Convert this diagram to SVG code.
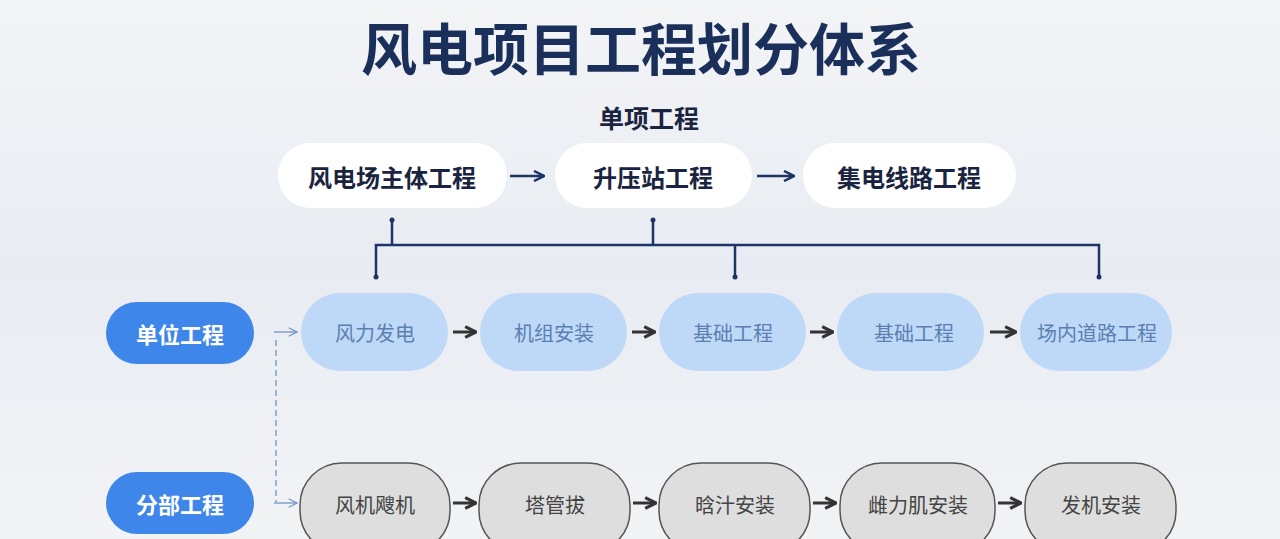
<svg xmlns="http://www.w3.org/2000/svg" width="1280" height="539" viewBox="0 0 1280 539">
<defs>
<linearGradient id="bg" x1="0" y1="0" x2="0" y2="1"><stop offset="0" stop-color="#f3f4f6"/><stop offset="0.5" stop-color="#e8ecf2"/><stop offset="1" stop-color="#f2f3f5"/></linearGradient>
<marker id="an" viewBox="0 0 10 10" refX="9" refY="5" markerWidth="5" markerHeight="5" orient="auto"><path d="M1,1 L9,5 L1,9" fill="none" stroke="#1c3566" stroke-width="2"/></marker>
<marker id="ad" viewBox="0 0 10 10" refX="9" refY="5" markerWidth="4.5" markerHeight="4.5" orient="auto"><path d="M1,1 L9,5 L1,9" fill="none" stroke="#333" stroke-width="2.4"/></marker>
<marker id="al" viewBox="0 0 10 10" refX="9" refY="5" markerWidth="8" markerHeight="8" orient="auto"><path d="M1,1 L9,5 L1,9" fill="none" stroke="#6f95c8" stroke-width="1.1"/></marker>
</defs>
<style>
text{font-family:"Noto Sans CJK SC","Noto Sans",sans-serif;text-anchor:middle;dominant-baseline:central}
.top rect{fill:#fff}
.top text{font-size:24px;font-weight:bold;fill:#1a2440}
.unit rect{fill:#bed8f8}
.unit text{font-size:20px;fill:#5a7fb0}
.sub rect{fill:#dedede;stroke:#555;stroke-width:1.5}
.sub text{font-size:20px;fill:#444}
.lab rect{fill:#3f86ea}
.lab text{font-size:22px;font-weight:bold;fill:#fff}
.nv{stroke:#1c3566;stroke-width:2.5;fill:none}
.dk{stroke:#333;stroke-width:3;marker-end:url(#ad)}
</style>
<rect width="1280" height="539" fill="url(#bg)"/>
<text x="641" y="45" font-size="56" font-weight="bold" fill="#1a2f5a">风电项目工程划分体系</text>
<text x="649" y="117" font-size="25" font-weight="bold" fill="#1a2440">单项工程</text>
<g id="n1" class="top"><rect x="278" y="143" width="229" height="65" rx="32"/><text x="392" y="176">风电场主体工程</text></g>
<g id="n2" class="top"><rect x="555" y="143" width="197" height="65" rx="32"/><text x="653" y="176">升压站工程</text></g>
<g id="n3" class="top"><rect x="803" y="143" width="213" height="65" rx="32"/><text x="909" y="176">集电线路工程</text></g>
<g id="l1" class="lab"><rect x="106" y="302" width="148" height="62" rx="31"/><text x="180" y="333">单位工程</text></g>
<g id="l2" class="lab"><rect x="106" y="472" width="148" height="62" rx="31"/><text x="180" y="503">分部工程</text></g>
<g id="u1" class="unit"><rect x="301" y="293" width="147" height="78" rx="39"/><text x="375" y="332">风力发电</text></g>
<g id="u2" class="unit"><rect x="480" y="293" width="147" height="78" rx="39"/><text x="554" y="332">机组安装</text></g>
<g id="u3" class="unit"><rect x="659" y="293" width="147" height="78" rx="39"/><text x="733" y="332">基础工程</text></g>
<g id="u4" class="unit"><rect x="837" y="293" width="147" height="78" rx="39"/><text x="914" y="332">基础工程</text></g>
<g id="u5" class="unit"><rect x="1020" y="293" width="152" height="78" rx="39"/><text x="1097" y="332">场内道路工程</text></g>
<g id="s1" class="sub"><rect x="300" y="463" width="150" height="90" rx="42"/><text x="375" y="504">风机飕机</text></g>
<g id="s2" class="sub"><rect x="479" y="463" width="151" height="90" rx="42"/><text x="555" y="504">塔管拔</text></g>
<g id="s3" class="sub"><rect x="659" y="463" width="151" height="90" rx="42"/><text x="735" y="504">晗汁安装</text></g>
<g id="s4" class="sub"><rect x="840" y="463" width="155" height="90" rx="42"/><text x="918" y="504">雌力肌安装</text></g>
<g id="s5" class="sub"><rect x="1025" y="463" width="151" height="90" rx="42"/><text x="1101" y="504">发机安装</text></g>
<g id="connectors">
<path class="nv" d="M510,176 H544" marker-end="url(#an)"/>
<path class="nv" d="M757,176 H794" marker-end="url(#an)"/>
<path class="nv" d="M392,220 V245 M653,220 V245 M376,277 V245 H1099 V277 M735,245 V277"/>
<g fill="#1c3566"><circle cx="392" cy="220" r="2.5"/><circle cx="653" cy="220" r="2.5"/><circle cx="376" cy="277" r="2.5"/><circle cx="735" cy="277" r="2.5"/><circle cx="1099" cy="277" r="2.5"/></g>
<path d="M276,340 V502" stroke="#6f95c8" stroke-width="1.3" stroke-dasharray="6,4" fill="none"/>
<path d="M274,332 H297" stroke="#6f95c8" stroke-width="1.3" marker-end="url(#al)"/>
<path d="M274,503 H297" stroke="#6f95c8" stroke-width="1.3" marker-end="url(#al)"/>
<path class="dk" d="M453,332 H476"/><path class="dk" d="M632,332 H655"/><path class="dk" d="M810,332 H833"/><path class="dk" d="M990,332 H1016"/>
<path class="dk" d="M453,503 H476"/><path class="dk" d="M633,503 H656"/><path class="dk" d="M813,503 H836"/><path class="dk" d="M998,503 H1021"/>
</g>
</svg>
